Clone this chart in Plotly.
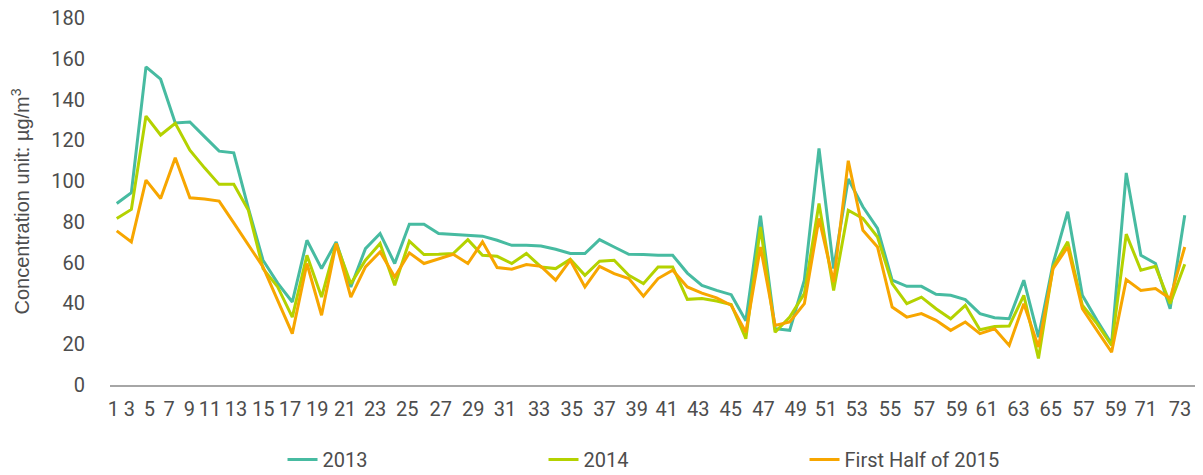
import plotly.graph_objects as go

# ---- data ----
point_index = list(range(1, 75))  # 74 observation points

series_2013 = [89.0, 94.3, 156.0, 150.0, 128.5, 129.0, 121.8, 114.7, 113.9, 86.6,
               61.2, 50.0, 40.7, 71.0, 57.1, 70.2, 48.1, 66.9, 74.3, 59.6,
               78.9, 78.9, 74.3, 73.8, 73.5, 73.0, 71.0, 68.5, 68.5, 68.2,
               66.6, 64.5, 64.5, 71.3, 67.7, 64.1, 64.0, 63.6, 63.6, 54.9,
               48.9, 46.4, 44.3, 31.5, 83.0, 27.6, 26.8, 51.4, 116.0, 57.1,
               101.0, 87.4, 76.8, 51.4, 48.4, 48.4, 44.5, 44.0, 41.9, 35.0,
               33.0, 32.5, 51.4, 23.5, 59.6, 85.0, 44.0, 31.7, 20.2, 104.0,
               63.6, 59.6, 37.4, 83.3]

series_2014 = [81.7, 86.1, 131.9, 122.6, 128.4, 115.2, 106.5, 98.4, 98.4, 85.7,
               57.1, 48.1, 33.3, 63.6, 43.1, 69.4, 49.7, 61.2, 69.4, 48.9,
               70.5, 64.0, 64.1, 64.5, 71.3, 63.6, 63.1, 59.6, 64.5, 57.9,
               57.1, 61.7, 53.8, 60.7, 61.2, 53.8, 49.7, 57.9, 57.9, 42.0,
               42.4, 41.2, 39.5, 22.7, 77.5, 25.9, 33.3, 44.8, 89.0, 46.4,
               85.7, 81.7, 72.6, 49.7, 39.9, 43.1, 37.4, 32.5, 39.1, 27.1,
               28.7, 28.9, 44.0, 13.0, 57.9, 70.2, 39.1, 30.1, 19.4, 74.0,
               56.3, 58.2, 39.9, 59.2]

series_2015h1 = [75.6, 70.2, 100.5, 91.5, 111.5, 91.8, 91.2, 90.2, 79.5, 68.9,
                 57.9, 41.5, 25.2, 59.6, 34.2, 69.4, 43.1, 57.9, 65.3, 53.0,
                 64.8, 59.6, 62.0, 64.1, 59.6, 70.2, 57.6, 56.8, 59.1, 58.2,
                 51.4, 61.2, 48.1, 58.2, 54.6, 52.2, 43.6, 52.2, 56.3, 48.1,
                 45.1, 42.7, 39.1, 25.9, 67.7, 29.2, 30.9, 39.9, 81.7, 50.5,
                 110.0, 75.9, 67.7, 38.2, 33.3, 35.0, 31.7, 26.8, 30.9, 25.2,
                 27.6, 19.4, 39.9, 18.6, 57.1, 67.7, 37.4, 26.8, 16.1, 51.7,
                 46.4, 47.3, 42.4, 67.7]

series_names = ["2013", "2014", "First Half of 2015"]
series_colors = ["#47BBA1", "#B4D200", "#F7A600"]

# x tick labels exactly as printed in the reference (incl. its "57", "59" after 65)
tick_text = ["1", "3", "5", "7", "9", "11", "13", "15", "17", "19", "21", "23",
             "25", "27", "29", "31", "33", "35", "37", "39", "41", "43", "45",
             "47", "49", "51", "53", "55", "57", "59", "61", "63", "65", "57",
             "59", "71", "73"]
# where those labels sit along the x axis (in point-index units)
tick_pos = [0.77, 1.86, 3.23, 4.58, 5.96, 7.38, 9.15, 11.02, 12.85, 14.71, 16.61,
            18.66, 20.86, 23.15, 25.37, 27.54, 29.87, 32.10, 34.33, 36.54, 38.59,
            40.75, 42.97, 45.20, 47.41, 49.48, 51.58, 53.86, 56.18, 58.42, 60.47,
            62.63, 64.84, 67.07, 69.28, 71.33, 73.68]

y_ticks = [0, 20, 40, 60, 80, 100, 120, 140, 160, 180]

TEXT = "#4D4D4D"
FONT = "Roboto"
TITLE_FONT = "Liberation Sans"

fig = go.Figure()
for name, vals, col in zip(series_names, [series_2013, series_2014, series_2015h1], series_colors):
    fig.add_trace(go.Scatter(x=point_index, y=vals, mode="lines", name=name,
                             line=dict(color=col, width=3)))

# the page body adds an 8px offset, so the figure is sized to fit the window
fig.update_layout(
    width=1195, height=467,
    margin=dict(l=102, r=8, t=10, b=90, autoexpand=False),
    paper_bgcolor="white", plot_bgcolor="white",
    font=dict(family=FONT, size=20, color=TEXT),
    showlegend=True,
    legend=dict(orientation="h", x=0.159, xanchor="left", y=-0.15, yanchor="top",
                font=dict(family=FONT, size=20, color=TEXT),
                entrywidth=216, entrywidthmode="pixels",
                bgcolor="rgba(0,0,0,0)", traceorder="normal"),
)
fig.update_xaxes(range=[0.54, 74.7], tickmode="array", tickvals=tick_pos, ticktext=tick_text,
                 showgrid=False, zeroline=False, showline=True, linecolor="#A6A6A6",
                 linewidth=1.5, ticks="", ticklabelstandoff=5, automargin=False,
                 tickfont=dict(family=FONT, size=20, color=TEXT))
fig.update_yaxes(range=[0, 180], tickmode="array", tickvals=y_ticks,
                 showgrid=False, zeroline=False, showline=False, ticks="",
                 ticklabelstandoff=24, automargin=False, ticklabeloverflow="allow",
                 tickfont=dict(family=FONT, size=20, color=TEXT),
                 title=dict(text="Concentration unit: µg/m<sup>3</sup>", standoff=18,
                            font=dict(family=TITLE_FONT, size=20, color=TEXT)))

fig.write_html("out.html")
